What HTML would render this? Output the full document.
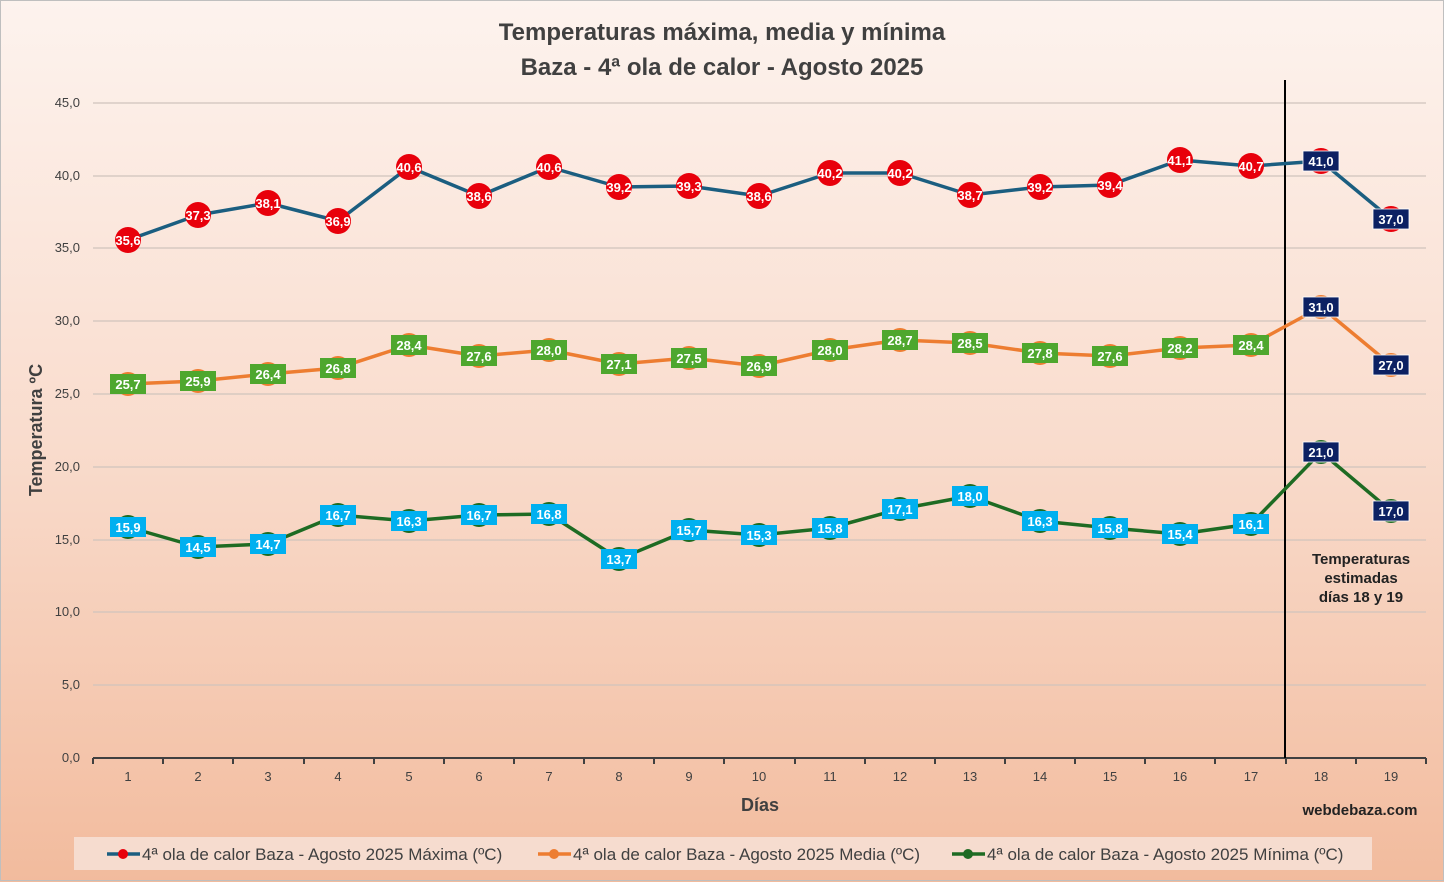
<!DOCTYPE html>
<html><head><meta charset="utf-8"><style>
html,body{margin:0;padding:0}
body{width:1444px;height:882px;overflow:hidden;font-family:"Liberation Sans",sans-serif}
</style></head><body>
<svg width="1444" height="882" xmlns="http://www.w3.org/2000/svg" font-family="Liberation Sans, sans-serif">
<defs><linearGradient id="bg" x1="0" y1="0" x2="0" y2="1">
<stop offset="0" stop-color="#fdf3ee"/><stop offset="0.5" stop-color="#f9dccd"/><stop offset="1" stop-color="#f2bb9d"/></linearGradient></defs>
<rect x="0" y="0" width="1444" height="882" fill="url(#bg)"/>
<rect x="0.5" y="0.5" width="1443" height="880" fill="none" stroke="#bfbfbf"/>
<text x="722" y="40" text-anchor="middle" font-size="24" font-weight="bold" fill="#404040">Temperaturas máxima, media y mínima</text>
<text x="722" y="75" text-anchor="middle" font-size="24" font-weight="bold" fill="#404040">Baza - 4ª ola de calor - Agosto 2025</text>
<g stroke="#d0c4bd" stroke-width="1.2">
<line x1="93" x2="1426" y1="103" y2="103"/><line x1="93" x2="1426" y1="176" y2="176"/><line x1="93" x2="1426" y1="248" y2="248"/>
<line x1="93" x2="1426" y1="321" y2="321"/><line x1="93" x2="1426" y1="394" y2="394"/><line x1="93" x2="1426" y1="467" y2="467"/>
<line x1="93" x2="1426" y1="540" y2="540"/><line x1="93" x2="1426" y1="612" y2="612"/><line x1="93" x2="1426" y1="685" y2="685"/>
</g>
<line x1="93" x2="1426" y1="758" y2="758" stroke="#404040" stroke-width="2"/>
<g stroke="#404040" stroke-width="2">
<line x1="93" x2="93" y1="758" y2="764"/><line x1="163" x2="163" y1="758" y2="764"/><line x1="233" x2="233" y1="758" y2="764"/><line x1="304" x2="304" y1="758" y2="764"/><line x1="374" x2="374" y1="758" y2="764"/><line x1="444" x2="444" y1="758" y2="764"/><line x1="514" x2="514" y1="758" y2="764"/><line x1="584" x2="584" y1="758" y2="764"/><line x1="654" x2="654" y1="758" y2="764"/><line x1="724" x2="724" y1="758" y2="764"/><line x1="795" x2="795" y1="758" y2="764"/><line x1="865" x2="865" y1="758" y2="764"/><line x1="935" x2="935" y1="758" y2="764"/><line x1="1005" x2="1005" y1="758" y2="764"/><line x1="1075" x2="1075" y1="758" y2="764"/><line x1="1145" x2="1145" y1="758" y2="764"/><line x1="1215" x2="1215" y1="758" y2="764"/><line x1="1286" x2="1286" y1="758" y2="764"/><line x1="1356" x2="1356" y1="758" y2="764"/><line x1="1426" x2="1426" y1="758" y2="764"/>
</g>
<g font-size="13" fill="#404040" text-anchor="end">
<text x="80" y="107">45,0</text><text x="80" y="180">40,0</text><text x="80" y="252">35,0</text><text x="80" y="325">30,0</text><text x="80" y="398">25,0</text><text x="80" y="471">20,0</text><text x="80" y="544">15,0</text><text x="80" y="616">10,0</text><text x="80" y="689">5,0</text><text x="80" y="762">0,0</text>
</g>
<g font-size="13" fill="#404040" text-anchor="middle">
<text x="128" y="781">1</text><text x="198" y="781">2</text><text x="268" y="781">3</text><text x="338" y="781">4</text><text x="409" y="781">5</text><text x="479" y="781">6</text><text x="549" y="781">7</text><text x="619" y="781">8</text><text x="689" y="781">9</text><text x="759" y="781">10</text><text x="830" y="781">11</text><text x="900" y="781">12</text><text x="970" y="781">13</text><text x="1040" y="781">14</text><text x="1110" y="781">15</text><text x="1180" y="781">16</text><text x="1251" y="781">17</text><text x="1321" y="781">18</text><text x="1391" y="781">19</text>
</g>
<text x="760" y="811" text-anchor="middle" font-size="18" font-weight="bold" fill="#404040">Días</text>
<text transform="translate(42,430) rotate(-90)" text-anchor="middle" font-size="18" font-weight="bold" fill="#404040">Temperatura ºC</text>
<text x="1360" y="815" text-anchor="middle" font-size="15" font-weight="bold" fill="#222">webdebaza.com</text>
<line x1="1285" x2="1285" y1="80" y2="758" stroke="#000" stroke-width="2"/>
<g font-size="15" font-weight="bold" fill="#222" text-anchor="middle">
<text x="1361" y="564">Temperaturas</text><text x="1361" y="583">estimadas</text><text x="1361" y="602">días 18 y 19</text>
</g>
<g fill="none" stroke-width="3.5" stroke-linejoin="round">
<polyline stroke="#1b5e80" points="128,240 198,215 268,203 338,221 409,167 479,196 549,167 619,187 689,186 759,196 830,173 900,173 970,195 1040,187 1110,185 1180,160 1251,166 1321,161 1391,219"/>
<polyline stroke="#ed7d31" points="128,384 198,381 268,374 338,368 409,345 479,356 549,350 619,364 689,358 759,366 830,350 900,340 970,343 1040,353 1110,356 1180,348 1251,345 1321,307 1391,365"/>
<polyline stroke="#1e6b23" points="128,527 198,547 268,544 338,515 409,521 479,515 549,514 619,559 689,530 759,535 830,528 900,509 970,496 1040,521 1110,528 1180,534 1251,524 1321,452 1391,511"/>
</g>
<g fill="#e8000b">
<circle cx="128" cy="240" r="13"/><circle cx="198" cy="215" r="13"/><circle cx="268" cy="203" r="13"/><circle cx="338" cy="221" r="13"/><circle cx="409" cy="167" r="13"/><circle cx="479" cy="196" r="13"/><circle cx="549" cy="167" r="13"/><circle cx="619" cy="187" r="13"/><circle cx="689" cy="186" r="13"/><circle cx="759" cy="196" r="13"/><circle cx="830" cy="173" r="13"/><circle cx="900" cy="173" r="13"/><circle cx="970" cy="195" r="13"/><circle cx="1040" cy="187" r="13"/><circle cx="1110" cy="185" r="13"/><circle cx="1180" cy="160" r="13"/><circle cx="1251" cy="166" r="13"/><circle cx="1321" cy="161" r="13"/><circle cx="1391" cy="219" r="13"/>
</g>
<g fill="#ed7d31">
<circle cx="128" cy="384" r="12"/><circle cx="198" cy="381" r="12"/><circle cx="268" cy="374" r="12"/><circle cx="338" cy="368" r="12"/><circle cx="409" cy="345" r="12"/><circle cx="479" cy="356" r="12"/><circle cx="549" cy="350" r="12"/><circle cx="619" cy="364" r="12"/><circle cx="689" cy="358" r="12"/><circle cx="759" cy="366" r="12"/><circle cx="830" cy="350" r="12"/><circle cx="900" cy="340" r="12"/><circle cx="970" cy="343" r="12"/><circle cx="1040" cy="353" r="12"/><circle cx="1110" cy="356" r="12"/><circle cx="1180" cy="348" r="12"/><circle cx="1251" cy="345" r="12"/><circle cx="1321" cy="307" r="12"/><circle cx="1391" cy="365" r="12"/>
</g>
<g fill="#1e6b23">
<circle cx="128" cy="527" r="12"/><circle cx="198" cy="547" r="12"/><circle cx="268" cy="544" r="12"/><circle cx="338" cy="515" r="12"/><circle cx="409" cy="521" r="12"/><circle cx="479" cy="515" r="12"/><circle cx="549" cy="514" r="12"/><circle cx="619" cy="559" r="12"/><circle cx="689" cy="530" r="12"/><circle cx="759" cy="535" r="12"/><circle cx="830" cy="528" r="12"/><circle cx="900" cy="509" r="12"/><circle cx="970" cy="496" r="12"/><circle cx="1040" cy="521" r="12"/><circle cx="1110" cy="528" r="12"/><circle cx="1180" cy="534" r="12"/><circle cx="1251" cy="524" r="12"/><circle cx="1321" cy="452" r="12"/><circle cx="1391" cy="511" r="12"/>
</g>
<!-- green boxes (media) -->
<g fill="#4ea72e">
<rect x="110" y="374" width="36" height="20"/><rect x="180" y="371" width="36" height="20"/><rect x="250" y="364" width="36" height="20"/><rect x="320" y="358" width="36" height="20"/><rect x="391" y="335" width="36" height="20"/><rect x="461" y="346" width="36" height="20"/><rect x="531" y="340" width="36" height="20"/><rect x="601" y="354" width="36" height="20"/><rect x="671" y="348" width="36" height="20"/><rect x="741" y="356" width="36" height="20"/><rect x="812" y="340" width="36" height="20"/><rect x="882" y="330" width="36" height="20"/><rect x="952" y="333" width="36" height="20"/><rect x="1022" y="343" width="36" height="20"/><rect x="1092" y="346" width="36" height="20"/><rect x="1162" y="338" width="36" height="20"/><rect x="1233" y="335" width="36" height="20"/>
</g>
<g fill="#00b0f0">
<rect x="110" y="517" width="36" height="20"/><rect x="180" y="537" width="36" height="20"/><rect x="250" y="534" width="36" height="20"/><rect x="320" y="505" width="36" height="20"/><rect x="391" y="511" width="36" height="20"/><rect x="461" y="505" width="36" height="20"/><rect x="531" y="504" width="36" height="20"/><rect x="601" y="549" width="36" height="20"/><rect x="671" y="520" width="36" height="20"/><rect x="741" y="525" width="36" height="20"/><rect x="812" y="518" width="36" height="20"/><rect x="882" y="499" width="36" height="20"/><rect x="952" y="486" width="36" height="20"/><rect x="1022" y="511" width="36" height="20"/><rect x="1092" y="518" width="36" height="20"/><rect x="1162" y="524" width="36" height="20"/><rect x="1233" y="514" width="36" height="20"/>
</g>
<g fill="#0c2163" stroke="#fff" stroke-width="0.8">
<rect x="1303" y="151" width="36" height="20"/><rect x="1373" y="209" width="36" height="20"/><rect x="1303" y="297" width="36" height="20"/><rect x="1373" y="355" width="36" height="20"/><rect x="1303" y="442" width="36" height="20"/><rect x="1373" y="501" width="36" height="20"/>
</g>
<g font-size="13" font-weight="bold" fill="#fff" text-anchor="middle">
<text x="128" y="245">35,6</text><text x="198" y="220">37,3</text><text x="268" y="208">38,1</text><text x="338" y="226">36,9</text><text x="409" y="172">40,6</text><text x="479" y="201">38,6</text><text x="549" y="172">40,6</text><text x="619" y="192">39,2</text><text x="689" y="191">39,3</text><text x="759" y="201">38,6</text><text x="830" y="178">40,2</text><text x="900" y="178">40,2</text><text x="970" y="200">38,7</text><text x="1040" y="192">39,2</text><text x="1110" y="190">39,4</text><text x="1180" y="165">41,1</text><text x="1251" y="171">40,7</text><text x="1321" y="166">41,0</text><text x="1391" y="224">37,0</text>
<text x="128" y="389">25,7</text><text x="198" y="386">25,9</text><text x="268" y="379">26,4</text><text x="338" y="373">26,8</text><text x="409" y="350">28,4</text><text x="479" y="361">27,6</text><text x="549" y="355">28,0</text><text x="619" y="369">27,1</text><text x="689" y="363">27,5</text><text x="759" y="371">26,9</text><text x="830" y="355">28,0</text><text x="900" y="345">28,7</text><text x="970" y="348">28,5</text><text x="1040" y="358">27,8</text><text x="1110" y="361">27,6</text><text x="1180" y="353">28,2</text><text x="1251" y="350">28,4</text><text x="1321" y="312">31,0</text><text x="1391" y="370">27,0</text>
<text x="128" y="532">15,9</text><text x="198" y="552">14,5</text><text x="268" y="549">14,7</text><text x="338" y="520">16,7</text><text x="409" y="526">16,3</text><text x="479" y="520">16,7</text><text x="549" y="519">16,8</text><text x="619" y="564">13,7</text><text x="689" y="535">15,7</text><text x="759" y="540">15,3</text><text x="830" y="533">15,8</text><text x="900" y="514">17,1</text><text x="970" y="501">18,0</text><text x="1040" y="526">16,3</text><text x="1110" y="533">15,8</text><text x="1180" y="539">15,4</text><text x="1251" y="529">16,1</text><text x="1321" y="457">21,0</text><text x="1391" y="516">17,0</text>
</g>
<rect x="74" y="837" width="1298" height="33" fill="#f6dccf"/>
<g stroke-width="3.5">
<line x1="107" x2="140" y1="854" y2="854" stroke="#1b5e80"/><circle cx="123" cy="854" r="5" fill="#e8000b"/>
<line x1="538" x2="571" y1="854" y2="854" stroke="#ed7d31"/><circle cx="554" cy="854" r="5" fill="#ed7d31"/>
<line x1="952" x2="985" y1="854" y2="854" stroke="#1e6b23"/><circle cx="968" cy="854" r="5" fill="#1e6b23"/>
</g>
<g font-size="17" fill="#404040">
<text x="142" y="860">4ª ola de calor Baza - Agosto 2025  Máxima (ºC)</text>
<text x="573" y="860">4ª ola de calor Baza - Agosto 2025 Media (ºC)</text>
<text x="987" y="860">4ª ola de calor Baza - Agosto 2025 Mínima (ºC)</text>
</g>
</svg>
</body></html>
